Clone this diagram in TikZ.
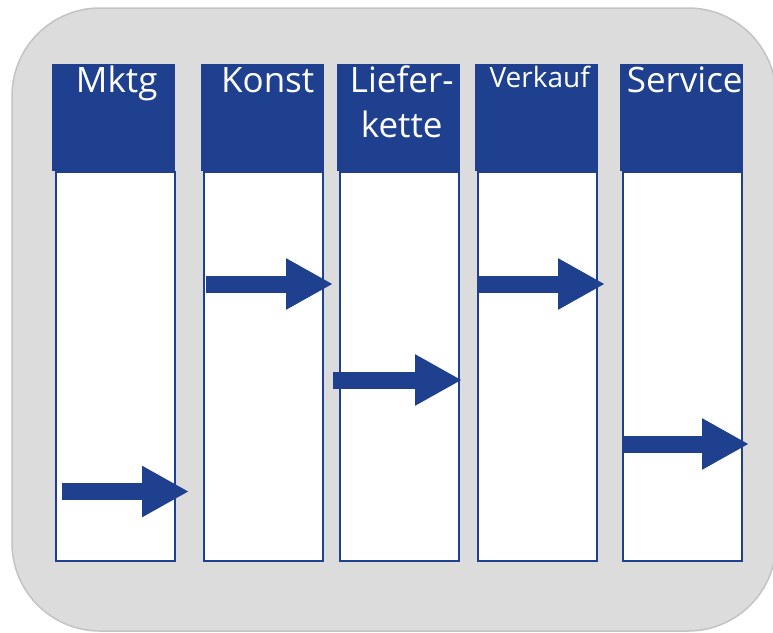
\documentclass[tikz,border=0pt]{standalone}
\usepackage{fontspec}
\newfontfamily\lanefont{Open Sans}
\usetikzlibrary{positioning,arrows.meta}
\definecolor{laneblue}{RGB}{31,64,143}
\definecolor{panelgrey}{RGB}{220,220,220}
\definecolor{panelline}{RGB}{195,195,195}

\begin{document}
\begin{tikzpicture}[
    x = 1pt,
    y = -1pt,
    head/.style={rectangle, fill=laneblue, anchor=north west, inner sep=0pt,
        minimum width=123pt, minimum height=107pt},
    body/.style={rectangle, draw=laneblue, fill=white, line width=1.8pt,
        anchor=north west, inner sep=0pt, minimum width=119pt, minimum height=389pt},
    headtext/.style={text=white, anchor=base, inner sep=0pt, align=center,
        font=\lanefont\fontsize{35}{45}\selectfont},
    handoff/.style={draw=laneblue, line width=17pt,
        -{Triangle[length=47pt,width=48pt]}}
]
    \useasboundingbox (0,0) rectangle (773,632);
    \draw[fill=panelgrey, draw=panelline, line width=1.5pt, rounded corners=88pt]
        (12,8) rectangle (776,631);

    % lanes
    \node[head] (mktg) at (52,64) {};
    \node[head] (konst) at (201,64) {};
    \node[head] (liefer) at (337,64) {};
    \node[head] (verkauf) at (475,64) {};
    \node[head] (service) at (620,64) {};

    \node[body] (mktg-body) at (55,171) {};
    \node[body] (konst-body) at (203,171) {};
    \node[body] (liefer-body) at (339,171) {};
    \node[body] (verkauf-body) at (477,171) {};
    \node[body] (service-body) at (622,171) {};

    \node[headtext] (mktg-label) at ([xshift=3pt, yshift=-28pt]mktg.north) {Mktg};
    \node[headtext] (konst-label) at ([xshift=5pt, yshift=-28pt]konst.north) {Konst};
    \node[headtext] (liefer-label) at ([xshift=3pt, yshift=-73pt]liefer.north) {Liefer-\\kette};
    \node[headtext, font=\lanefont\fontsize{28}{34}\selectfont] (verkauf-label)
        at ([xshift=3pt, yshift=-23pt]verkauf.north) {Verkauf};
    \node[headtext] (service-label) at ([xshift=3pt, yshift=-28pt]service.north) {Service};

    % hand-offs
    \coordinate (mktg-out) at (62,491.5);
    \coordinate (mktg-tip) at (189,491.5);
    \coordinate (konst-out) at (206,284);
    \coordinate (konst-tip) at (333,284);
    \coordinate (liefer-out) at (333,380);
    \coordinate (liefer-tip) at (462,380);
    \coordinate (verkauf-out) at (477,284);
    \coordinate (verkauf-tip) at (605,284);
    \coordinate (service-out) at (622,444);
    \coordinate (service-tip) at (749,444);

    \draw[handoff] (mktg-out) -- (mktg-tip);
    \draw[handoff] (konst-out) -- (konst-tip);
    \draw[handoff] (liefer-out) -- (liefer-tip);
    \draw[handoff] (verkauf-out) -- (verkauf-tip);
    \draw[handoff] (service-out) -- (service-tip);
\end{tikzpicture}
\end{document}
